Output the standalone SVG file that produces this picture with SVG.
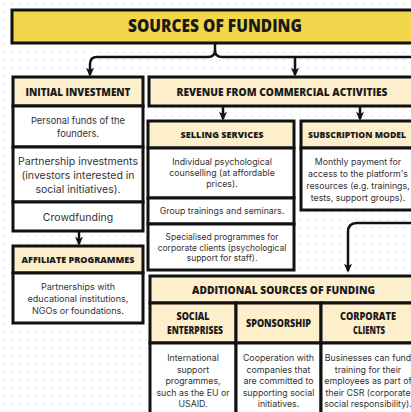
<svg xmlns="http://www.w3.org/2000/svg" width="411" height="412" viewBox="0 0 411 412">
<defs>
<pattern id="dots" x="0" y="0" width="8" height="8" patternUnits="userSpaceOnUse">
<circle cx="4" cy="4" r="0.8" fill="#dcdcdc"/>
</pattern>
<marker id="arr" viewBox="0 0 10 10" refX="8" refY="5" markerWidth="9" markerHeight="9" markerUnits="userSpaceOnUse" orient="auto">
<path d="M0,0.5 L10,5 L0,9.5 L2.5,5 z" fill="#111"/>
</marker>
<style>
.box{stroke:#111;stroke-width:3;}
.hd{fill:#fdefcc;}
.wh{fill:#ffffff;}
.ti{fill:#f3d64b;}
.h{font-family:"Open Sans","DejaVu Sans",sans-serif;font-weight:800;fill:#1a1a1a;text-anchor:middle;}
.b{font-family:Inter,"Noto Sans",sans-serif;fill:#333;text-anchor:middle;}
.c{fill:none;stroke:#111;stroke-width:2.5;}
</style>
</defs>
<rect width="411" height="412" fill="#ffffff"/>
<rect width="411" height="412" fill="url(#dots)"/>

<g id="connectors">
<path class="c" d="M215,43 V50 Q215,57 208,57 H97 Q90,57 90,64 V75" marker-end="url(#arr)"/>
<path class="c" d="M215,50 Q215,57 222,57 H420"/>
<path class="c" d="M295,57 V75" marker-end="url(#arr)"/>
<path class="c" d="M79,231 V244" marker-end="url(#arr)"/>
<path class="c" d="M223,106 V119" marker-end="url(#arr)"/>
<path class="c" d="M360,106 V119" marker-end="url(#arr)"/>
<path class="c" d="M420,223 H357 Q348,223 348,232 V271" marker-end="url(#arr)"/>
</g>

<g id="title">
<rect class="box ti" x="12" y="10" width="410" height="33"/>
<text class="h" x="215" y="32" font-size="17.5" textLength="174" lengthAdjust="spacingAndGlyphs">SOURCES OF FUNDING</text>
</g>

<g id="initial-investment">
<rect class="box hd" x="13" y="77" width="130" height="29"/>
<text class="h" x="78" y="95.5" font-size="10.5" textLength="105" lengthAdjust="spacingAndGlyphs">INITIAL INVESTMENT</text>
</g>
<g id="personal-funds">
<rect class="box wh" x="13" y="106" width="130" height="41"/>
<text class="b" x="78" y="124" font-size="9.3">Personal funds of the</text>
<text class="b" x="78" y="137" font-size="9.3">founders.</text>
</g>
<g id="partnership">
<rect class="box wh" x="13" y="147" width="130" height="55"/>
<text class="b" x="78" y="165" font-size="10.5">Partnership investments</text>
<text class="b" x="78" y="179" font-size="10.5">(investors interested in</text>
<text class="b" x="78" y="193" font-size="10.5">social initiatives).</text>
</g>
<g id="crowdfunding">
<rect class="box wh" x="13" y="202" width="130" height="29"/>
<text class="b" x="78" y="221" font-size="10.5">Crowdfunding</text>
</g>

<g id="affiliate">
<rect class="box hd" x="13" y="246" width="130" height="27"/>
<text class="h" x="78" y="263" font-size="9.5" textLength="113" lengthAdjust="spacingAndGlyphs">AFFILIATE PROGRAMMES</text>
<rect class="box wh" x="13" y="273" width="130" height="50"/>
<text class="b" x="78" y="290" font-size="9">Partnerships with</text>
<text class="b" x="78" y="302" font-size="9">educational institutions,</text>
<text class="b" x="78" y="314" font-size="9">NGOs or foundations.</text>
</g>

<g id="revenue">
<rect class="box hd" x="149" y="77" width="267" height="29"/>
<text class="h" x="282" y="95.5" font-size="10.5" textLength="211" lengthAdjust="spacingAndGlyphs">REVENUE FROM COMMERCIAL ACTIVITIES</text>
</g>

<g id="selling-services">
<rect class="box hd" x="148" y="121" width="146" height="27"/>
<text class="h" x="222" y="138" font-size="9.5" textLength="83" lengthAdjust="spacingAndGlyphs">SELLING SERVICES</text>
<rect class="box wh" x="148" y="148" width="146" height="50"/>
<text class="b" x="222" y="165" font-size="8.8">Individual psychological</text>
<text class="b" x="222" y="176" font-size="8.8">counselling (at affordable</text>
<text class="b" x="222" y="187" font-size="8.8">prices).</text>
<rect class="box wh" x="148" y="198" width="146" height="26"/>
<text class="b" x="222" y="214" font-size="8.8">Group trainings and seminars.</text>
<rect class="box wh" x="148" y="224" width="146" height="46"/>
<text class="b" x="222" y="240" font-size="8.5">Specialised programmes for</text>
<text class="b" x="222" y="251" font-size="8.5">corporate clients (psychological</text>
<text class="b" x="222" y="261" font-size="8.5">support for staff).</text>
</g>

<g id="subscription">
<rect class="box hd" x="301" y="121" width="116" height="27"/>
<text class="h" x="357" y="138" font-size="8.8" textLength="98" lengthAdjust="spacingAndGlyphs">SUBSCRIPTION MODEL</text>
<rect class="box wh" x="301" y="148" width="116" height="62"/>
<text class="b" x="358" y="165" font-size="8.8">Monthly payment for</text>
<text class="b" x="358" y="177" font-size="8.8">access to the platform's</text>
<text class="b" x="358" y="189" font-size="8.8">resources (e.g. trainings,</text>
<text class="b" x="358" y="201" font-size="8.8">tests, support groups).</text>
</g>

<g id="additional">
<rect class="box hd" x="150" y="276" width="266" height="27"/>
<text class="h" x="283.5" y="294" font-size="11" textLength="183" lengthAdjust="spacingAndGlyphs">ADDITIONAL SOURCES OF FUNDING</text>
</g>
<g id="social-enterprises">
<rect class="box hd" x="150" y="303" width="86" height="40"/>
<text class="h" x="193" y="320" font-size="10" textLength="33" lengthAdjust="spacingAndGlyphs">SOCIAL</text>
<text class="h" x="195" y="334" font-size="10" textLength="56" lengthAdjust="spacingAndGlyphs">ENTERPRISES</text>
<rect class="box wh" x="150" y="343" width="86" height="80"/>
<text class="b" x="193" y="361" font-size="8.8">International</text>
<text class="b" x="193" y="372.5" font-size="8.8">support</text>
<text class="b" x="193" y="384" font-size="8.8">programmes,</text>
<text class="b" x="193" y="395.5" font-size="8.8">such as the EU or</text>
<text class="b" x="193" y="407" font-size="8.8">USAID.</text>
</g>
<g id="sponsorship">
<rect class="box hd" x="236" y="303" width="85" height="40"/>
<text class="h" x="278.5" y="327" font-size="10" textLength="65" lengthAdjust="spacingAndGlyphs">SPONSORSHIP</text>
<rect class="box wh" x="236" y="343" width="85" height="80"/>
<text class="b" x="278.5" y="361" font-size="8.8">Cooperation with</text>
<text class="b" x="278.5" y="372.5" font-size="8.8">companies that</text>
<text class="b" x="278.5" y="384" font-size="8.8">are committed to</text>
<text class="b" x="278.5" y="395.5" font-size="8.8">supporting social</text>
<text class="b" x="278.5" y="407" font-size="8.8">initiatives.</text>
</g>
<g id="corporate-clients">
<rect class="box hd" x="321" y="303" width="95" height="40"/>
<text class="h" x="368" y="320" font-size="10" textLength="56" lengthAdjust="spacingAndGlyphs">CORPORATE</text>
<text class="h" x="369" y="334" font-size="10" textLength="32" lengthAdjust="spacingAndGlyphs">CLIENTS</text>
<rect class="box wh" x="321" y="343" width="95" height="80"/>
<text class="b" x="368" y="361" font-size="8.8">Businesses can fund</text>
<text class="b" x="368" y="372.5" font-size="8.8">training for their</text>
<text class="b" x="368" y="384" font-size="8.8">employees as part of</text>
<text class="b" x="368" y="395.5" font-size="8.8">their CSR (corporate</text>
<text class="b" x="368" y="407" font-size="8.8">social responsibility).</text>
</g>
</svg>
